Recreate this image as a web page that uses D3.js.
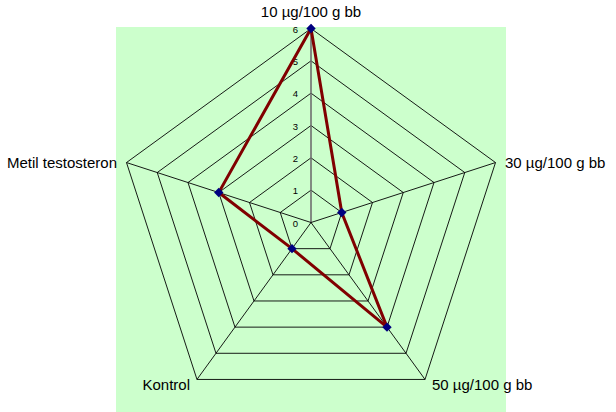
<!DOCTYPE html>
<html><head><meta charset="utf-8">
<script src="https://cdn.jsdelivr.net/npm/d3@7"></script>
<style>body{margin:0;background:#fff}svg{display:block}text{font-family:"Liberation Sans",Arial,sans-serif}</style>
</head><body><svg id="c" width="616" height="412"></svg>
<script>
const categories = ["10 µg/100 g bb", "30 µg/100 g bb", "50 µg/100 g bb", "Kontrol", "Metil testosteron"];
const values = [6, 1, 4, 1, 3];
const tickValues = [0, 1, 2, 3, 4, 5, 6];

const svg = d3.select("#c");
const cx = 311, cy = 222.5, R = 194;
const r = d3.scaleLinear().domain([0, 6]).range([0, R]);
const ang = d3.scaleLinear().domain([0, categories.length]).range([-Math.PI / 2, 1.5 * Math.PI]);
const pt = (i, v) => [cx + r(v) * Math.cos(ang(i)), cy + r(v) * Math.sin(ang(i))];

svg.append("rect").attr("x", 116).attr("y", 27).attr("width", 390).attr("height", 385).attr("fill", "#ccffcc");

// rings
const line = d3.line().curve(d3.curveLinearClosed);
tickValues.filter(t => t > 0).forEach(t => {
  svg.append("path").attr("d", line(categories.map((c, i) => pt(i, t))))
    .attr("fill", "none").attr("stroke", "#000").attr("stroke-width", 0.9);
});
// spokes
categories.forEach((c, i) => {
  const [x, y] = pt(i, 6);
  svg.append("line").attr("x1", cx).attr("y1", cy).attr("x2", x).attr("y2", y)
    .attr("stroke", i === 0 ? "#6e6e6e" : "#000").attr("stroke-width", i === 0 ? 1.6 : 0.9);
});
// tick labels
svg.selectAll("text.tick").data(tickValues).join("text").attr("class", "tick")
  .attr("x", cx - 13).attr("y", d => cy - r(d) + 1).attr("dy", "0.35em")
  .attr("text-anchor", "end").attr("font-size", 9.5).attr("fill", "#000").text(d => d);

// category labels
const lab = [
  {dx: 0, dy: -12, a: "middle", b: 0},
  {dx: 9.5, dy: 0, a: "start", b: 0.35},
  {dx: 7, dy: 11, a: "start", b: 0},
  {dx: -7, dy: 11, a: "end", b: 0},
  {dx: -9.5, dy: 0, a: "end", b: 0.35}
];
categories.forEach((c, i) => {
  const [x, y] = pt(i, 6);
  svg.append("text").attr("x", x + lab[i].dx).attr("y", y + lab[i].dy).attr("dy", lab[i].b + "em")
    .attr("text-anchor", lab[i].a).attr("font-size", 15).attr("fill", "#000").text(c);
});

// series
svg.append("path").attr("d", line(values.map((v, i) => pt(i, v))))
  .attr("fill", "none").attr("stroke", "#800000").attr("stroke-width", 3).attr("stroke-linejoin", "miter");
const sym = d3.symbol().type(d3.symbolSquare).size(44);
values.forEach((v, i) => {
  const [x, y] = pt(i, v);
  svg.append("path").attr("d", sym()).attr("transform", `translate(${x},${y}) rotate(45)`).attr("fill", "#000080");
});
</script></body></html>
